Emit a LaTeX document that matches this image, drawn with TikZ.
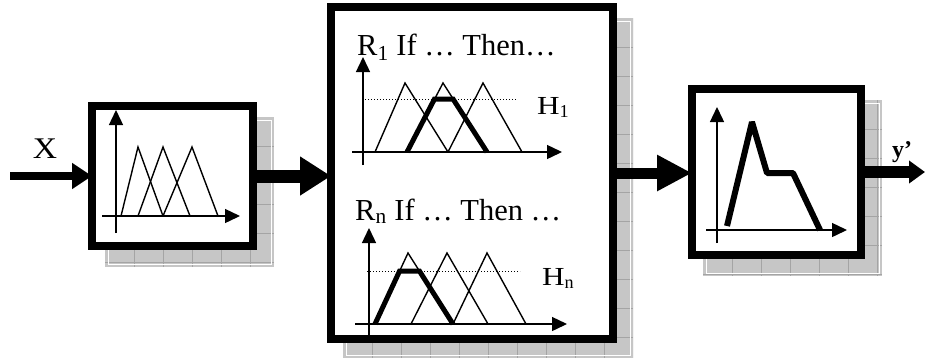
\documentclass[tikz,border=0pt]{standalone}
\usepackage{fontspec}
\usepackage{graphicx}
\setmainfont{Liberation Serif}
\usetikzlibrary{arrows.meta}
\definecolor{shadowgray}{HTML}{C6C6C6}
\definecolor{gridgray}{HTML}{A4A4A4}
\newcommand\myshadow[4]{%
  \fill[shadowgray] (#1,#2) rectangle (#3,#4);
  \begin{scope}
    \clip (#1,#2) rectangle (#3,#4);
    \foreach \gk in {29,58,...,580} {
      \draw[gridline] ({#1+\gk},#2) -- ({#1+\gk},#4);
      \draw[gridline] (#1,{#2+\gk}) -- (#3,{#2+\gk});
    }
  \end{scope}
  \draw[white, line width=0.9] ({#1+3},{#2+3}) rectangle ({#3-3},{#4-3});
}
\newcommand\wideH{\scalebox{1.2}[1]{H}}
\begin{document}
\begin{tikzpicture}[x=1pt,y=-1pt,
  gridline/.style={gridgray, line width=0.6},
  blockbox/.style={draw=black, fill=white, line width=8, inner sep=0, outer sep=0},
  axis/.style={line width=1.4, -{Triangle[length=15,width=14]}},
  thin/.style={line width=1.4, line join=miter},
  thick/.style={line width=5, line join=miter},
  level/.style={line width=0.9, dash pattern=on 1pt off 2pt},
  big/.style={line width=13, -{Triangle[length=31,width=37]}},
  lbl/.style={inner sep=0, anchor=base west},
]
\useasboundingbox (0,0) rectangle (925,360);
% shadows
\myshadow{105}{117}{274}{267}
\myshadow{343}{18}{633}{358}
\myshadow{703}{100}{882}{276}
% blocks
\node[blockbox, minimum width=161, minimum height=140] (box1) at (172.5,176) {};
\node[blockbox, minimum width=282, minimum height=332] (box2) at (472,173) {};
\node[blockbox, minimum width=169, minimum height=166] (box3) at (776.5,172) {};
% connectors
\coordinate (xin) at (10,176);
\coordinate (yout) at (925,172);
\draw[line width=8, -{Triangle[length=20,width=25]}] (xin) -- (box1.west);
\draw[big] (box1.east) -- (box1.east -| box2.west);
\draw[line width=11, -{Triangle[length=35,width=34]}] (box2.east) -- (box2.east -| box3.west);
\draw[line width=12, -{Triangle[length=16,width=22]}] (box3.east) -- (yout);
\node[lbl, anchor=base, font=\fontsize{30}{32}\selectfont] (xlab) at (45,158) {\scalebox{1.12}[1]{X}};
\node[lbl, font=\bfseries\fontsize{24}{26}\selectfont] (ylab) at (892,157) {y’};
% box 1 graph
\draw[axis] (116,233) -- (116,110);
\draw[axis] (102,216) -- (240,216);
\draw[thin] (121,216) -- (138,147) -- (163,216);
\draw[thin] (138,216) -- (163,147) -- (190,216);
\draw[thin] (163,216) -- (192,147) -- (218,216);
% box 2, rule 1
\node[lbl, font=\fontsize{30.5}{32}\selectfont] (r1) at (357,55) {R\textsubscript{1} If … Then…};
\draw[axis] (363,165) -- (363,57);
\draw[axis] (352,152) -- (562,152);
\draw[level] (362,99) -- (517,99);
\draw[thin] (375,152) -- (405,83) -- (448,152);
\draw[thin] (407,152) -- (443,83) -- (487,152);
\draw[thin] (448,152) -- (483,83) -- (522,152);
\draw[thick] (407,152) -- (434.5,99) -- (453,99) -- (487,152);
\node[lbl, font=\fontsize{26}{28}\selectfont] (h1) at (537,114) {\wideH\textsubscript{1}};
% box 2, rule n
\node[lbl, font=\fontsize{30.5}{32}\selectfont] (rn) at (355,220) {R\textsubscript{n} If … Then …};
\draw[axis] (369,335) -- (369,228);
\draw[axis] (355,324) -- (567,324);
\draw[level] (367,271) -- (520,271);
\draw[thin] (375,324) -- (408,253) -- (453,324);
\draw[thin] (411,324) -- (447,253) -- (488,324);
\draw[thin] (453,324) -- (487,253) -- (526,324);
\draw[thick] (375,324) -- (399.6,271) -- (419.4,271) -- (453,324);
\node[lbl, font=\fontsize{26}{28}\selectfont] (hn) at (542,285) {\wideH\textsubscript{n}};
% box 3 graph
\draw[axis] (717,243) -- (717,107);
\draw[axis] (706,230) -- (847,230);
\draw[line width=6, line join=bevel] (727,226) -- (752,122) -- (767,173) -- (793,173) -- (820,230);
\end{tikzpicture}
\end{document}
